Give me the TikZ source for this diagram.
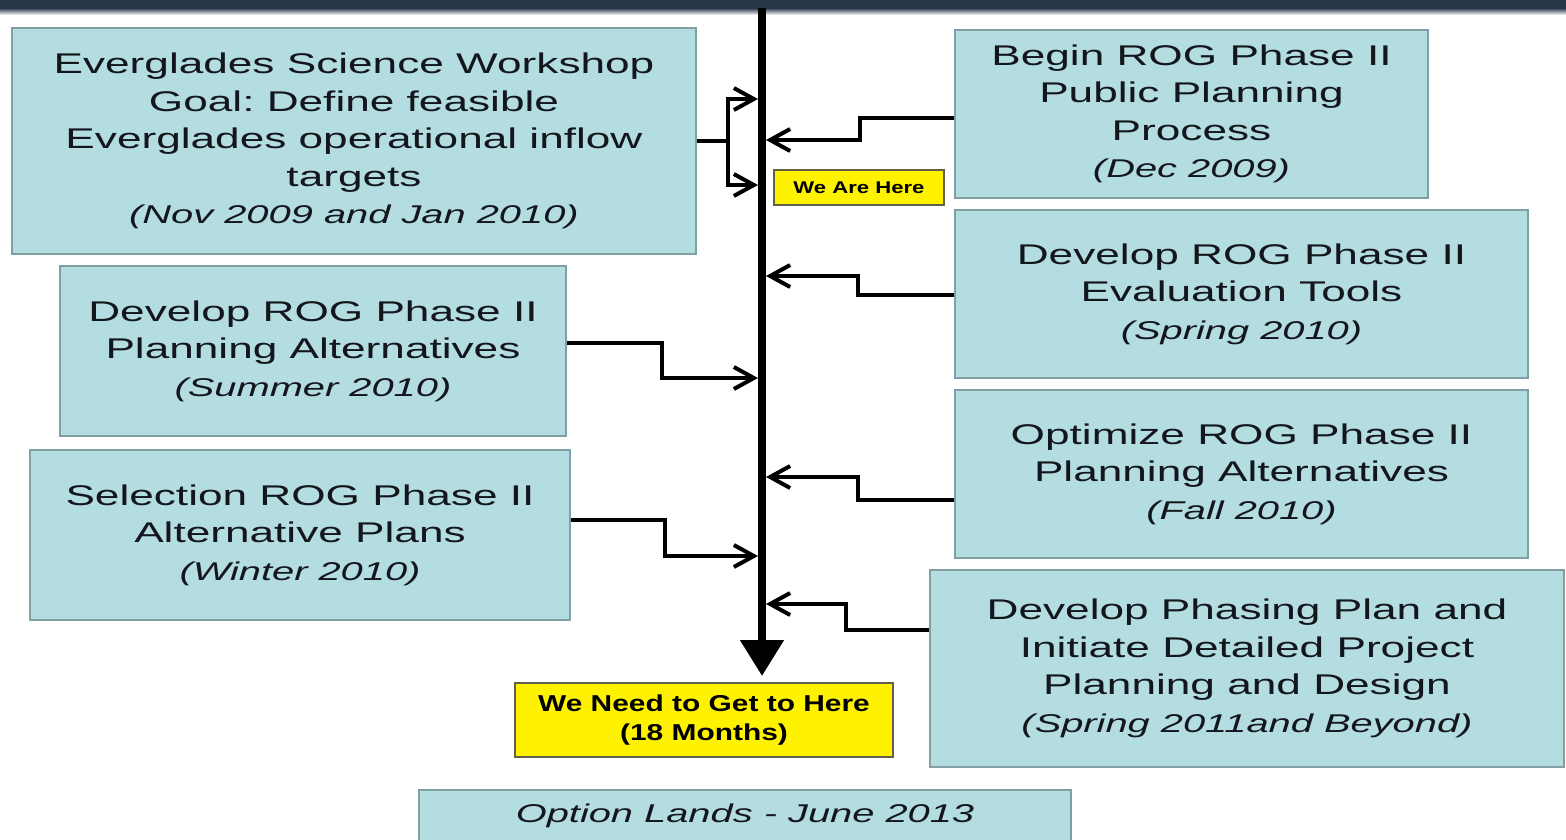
\documentclass[tikz,border=0pt]{standalone}
\usepackage{fontspec}
\usetikzlibrary{arrows.meta}
\newfontfamily\boxfont[FakeStretch=1.55]{Liberation Sans}
\newfontfamily\tagfont[FakeStretch=1.3]{Liberation Sans}
\newcommand\when[1]{{\fontsize{25.7}{37.5}\selectfont\itshape #1}}
\definecolor{boxfill}{RGB}{180,221,225}
\definecolor{boxline}{RGB}{128,160,165}
\definecolor{band}{RGB}{40,52,72}
\definecolor{txt}{RGB}{20,22,30}
\tikzset{
  stage/.style={draw=boxline, line width=2pt, fill=boxfill, inner sep=0pt,
    align=center, text=txt, font=\boxfont\fontsize{28.5}{37.5}\selectfont\frenchspacing},
  flag/.style={draw=black!70!yellow, line width=1.2pt, fill=yellow, inner sep=0pt,
    align=center, font=\tagfont\bfseries},
  arr/.style={line width=4pt, -{Straight Barb[length=20pt,width=22pt]}}
}
\begin{document}
\begin{tikzpicture}[x=1pt, y=-1pt]
  \useasboundingbox (0,0) rectangle (1566,839);
  % top band
  \fill[band] (0,0) rectangle (1566,8);
  \shade[top color=band, bottom color=white] (0,8) rectangle (1566,15);
  % timeline
  \coordinate (ttop) at (762,8);
  \coordinate (tbot) at (762,676);
  \draw[line width=8pt, -{Triangle[length=36pt,width=42pt]}] (ttop) -- (tbot);
  % left column
  \node[stage, minimum width=684, minimum height=226] (wks) at (354,141)
    {Everglades Science Workshop\\Goal: Define feasible\\Everglades operational inflow\\targets\\\when{(Nov 2009 and Jan 2010)}};
  \node[stage, minimum width=506, minimum height=170] (palt) at (313,351)
    {Develop ROG Phase II\\Planning Alternatives\\\when{(Summer 2010)}};
  \node[stage, minimum width=540, minimum height=170] (sel) at (300,535)
    {Selection ROG Phase II\\Alternative Plans\\\when{(Winter 2010)}};
  % right column
  \node[stage, minimum width=473, minimum height=168] (pub) at (1191.5,114)
    {Begin ROG Phase II\\Public Planning\\Process\\\when{(Dec 2009)}};
  \node[stage, minimum width=573, minimum height=168] (evt) at (1241.5,294)
    {Develop ROG Phase II\\Evaluation Tools\\\when{(Spring 2010)}};
  \node[stage, minimum width=573, minimum height=168] (opt) at (1241.5,474)
    {Optimize ROG Phase II\\Planning Alternatives\\\when{(Fall 2010)}};
  \node[stage, minimum width=634, minimum height=197] (pha) at (1247,668.5)
    {Develop Phasing Plan and\\Initiate Detailed Project\\Planning and Design\\\when{(Spring 2011and Beyond)}};
  % bottom
  \node[stage, minimum width=652, minimum height=52] (opl) at (745,816)
    {\when{Option Lands - June 2013}};
  % markers
  \node[flag, minimum width=170, minimum height=35, font=\tagfont\bfseries\fontsize{17}{20}\selectfont] (now) at (859,187.5)
    {We Are Here};
  \node[flag, minimum width=378, minimum height=74, font=\tagfont\bfseries\fontsize{23}{29}\selectfont] (goal) at (704,720)
    {We Need to Get to Here\\(18 Months)};
  % points on the timeline
  \coordinate (t1a) at (758,99);
  \coordinate (t1b) at (758,185);
  \coordinate (t2) at (766,140);
  \coordinate (t3) at (766,276);
  \coordinate (t4) at (758,378);
  \coordinate (t5) at (766,477);
  \coordinate (t6) at (758,556);
  \coordinate (t7) at (766,604);
  % connectors
  \coordinate (fork) at ([xshift=31pt]wks.east);
  \draw[line width=4pt] (wks.east) -- ([xshift=2pt]fork);
  \draw[arr] (fork) |- (t1a);
  \draw[arr] (fork) |- (t1b);
  \draw[arr] ([yshift=-4pt]pub.west) -| (860,140) -- (t2);
  \draw[arr] ([yshift=-1pt]evt.west) -| (858,276) -- (t3);
  \draw[arr] ([yshift=8pt]palt.east) -| (662,378) -- (t4);
  \draw[arr] ([yshift=-26pt]opt.west) -| (858,477) -- (t5);
  \draw[arr] ([yshift=15pt]sel.east) -| (665,556) -- (t6);
  \draw[arr] ([yshift=38.5pt]pha.west) -| (846,604) -- (t7);
\end{tikzpicture}
\end{document}
